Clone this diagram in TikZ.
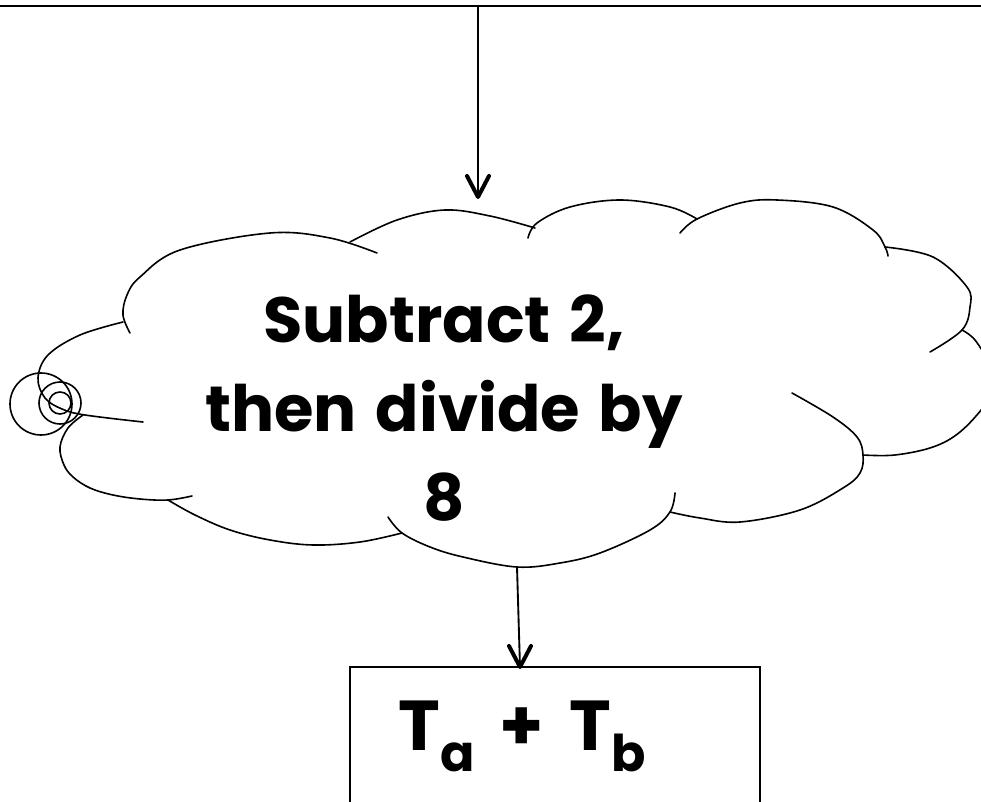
\documentclass[tikz,border=0pt]{standalone}
\usepackage{fontspec}
\setmainfont{Poppins}[WordSpace=1.4]
\usetikzlibrary{arrows.meta}
\begin{document}
\begin{tikzpicture}[x=0.75pt,y=-0.75pt,
  cloudline/.style={line width=1.2pt, line cap=round},
  flowline/.style={line width=1.4pt},
  headline/.style={line width=3pt, line cap=round, line join=round},
  bigtext/.style={font=\fontsize{48}{66.75}\selectfont\bfseries, align=center, inner sep=0pt},
  boxtext/.style={font=\fontsize{53}{60}\selectfont\bfseries, inner sep=0pt},
  boxstyle/.style={draw, line width=1.5pt, minimum width=307.5pt, minimum height=150pt, inner sep=0pt}]
\useasboundingbox (0,0) rectangle (981,802);
\clip (0,0) rectangle (981,802);
% top rule
\coordinate (ruleL) at (0,6);
\coordinate (ruleR) at (981,6);
\draw[line width=1.5pt] (ruleL) -- (ruleR);
% cloud outline
\begin{scope}[cloudline]
\draw plot[smooth, tension=0.6] coordinates {(123,322) (80,335) (48,355) (38,378) (45,398) (62,409) (85,415) (143,422)};
\draw plot[smooth, tension=0.6] coordinates {(130,333) (123,315) (127,295) (140,277) (180,250) (270,233) (330,238) (377,253)};
\draw plot[smooth, tension=0.6] coordinates {(350,242) (397,220) (445,210) (490,216) (535,228)};
\draw plot[smooth, tension=0.6] coordinates {(528,238) (537,223) (570,207) (620,200) (670,207) (697,219)};
\draw plot[smooth, tension=0.6] coordinates {(680,233) (697,219) (740,203) (777,200) (833,207) (873,230) (885,247) (888,256)};
\draw plot[smooth, tension=0.6] coordinates {(885,247) (933,257) (967,287) (970,307) (962,330) (930,352)};
\draw plot[smooth, tension=0.6] coordinates {(962,330) (975,340) (990,365) (995,385) (985,405) (960,432) (933,447) (895,455) (863,455)};
\draw plot[smooth, tension=0.6] coordinates {(792,393) (833,417) (857,437) (863,455) (860,473) (843,488) (800,510) (740,522) (700,518) (670,512)};
\draw plot[smooth, tension=0.6] coordinates {(675,493) (670,512) (650,530) (600,553) (560,563) (517,567) (463,557) (430,547) (402,533) (388,517)};
\draw plot[smooth, tension=0.6] coordinates {(402,533) (360,542) (313,545) (270,540) (230,530) (195,515) (168,500)};
\draw plot[smooth, tension=0.6] coordinates {(83,415) (68,428) (60,447) (64,465) (73,477) (90,488) (113,495) (140,499) (168,500) (192,496)};
\draw (41,404) circle[radius=23.25pt];
\draw (60,403) circle[radius=15.75pt];
\draw (60,403) circle[radius=8.25pt];
\end{scope}
% cloud text (base = last line)
\node[bigtext, anchor=base] (cloudtxt) at (444,520) {Subtract 2,\\then divide by\\8};
% box
\node[boxstyle] (tab) at (555,767) {};
\node[boxtext, anchor=base] (tabtxt) at (522,750) {T\raisebox{-16pt}{\fontsize{38}{38}\selectfont a}\hspace{19pt}+\hspace{19pt}T\raisebox{-16pt}{\fontsize{38}{38}\selectfont b}};
% arrows
\coordinate (inTop) at (478,6);
\coordinate (cloudTop) at (478,197);
\coordinate (cloudBot) at (517,567);
\coordinate (boxIn) at (520,667);
\draw[flowline] (inTop) -- (cloudTop);
\draw[headline] ([shift={(-11,-21)}]cloudTop) -- (cloudTop) -- ([shift={(11,-21)}]cloudTop);
\draw[flowline] (cloudBot) -- (boxIn);
\draw[headline] ([shift={(-11,-21)}]boxIn) -- (boxIn) -- ([shift={(11,-21)}]boxIn);
\end{tikzpicture}
\end{document}
